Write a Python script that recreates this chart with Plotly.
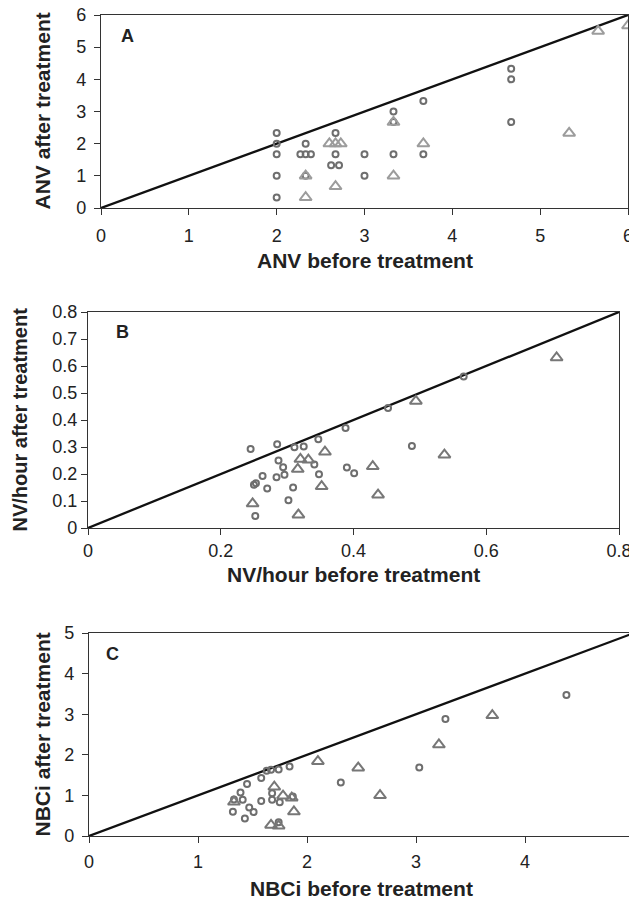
import plotly.graph_objects as go

# Panel A data
a_circ_x = [2, 2, 2, 2, 2, 2.27, 2.33, 2.39, 2.33, 2.33, 2.67, 2.67, 2.62, 2.71, 3, 3, 3.33, 3.33, 3.33, 3.67, 3.67, 4.67, 4.67, 4.67]
a_circ_y = [2.33, 2.0, 1.67, 1.0, 0.33, 1.67, 1.67, 1.67, 2.0, 1.0, 2.33, 1.67, 1.33, 1.33, 1.67, 1.0, 3.0, 2.67, 1.67, 3.33, 1.67, 4.33, 4.0, 2.67]
a_tri_x = [2.33, 2.33, 2.6, 2.67, 2.73, 2.67, 3.33, 3.33, 3.67, 5.33, 5.66, 6.0]
a_tri_y = [1.0, 0.33, 2.0, 2.0, 2.0, 0.67, 2.67, 1.0, 2.0, 2.33, 5.5, 5.67]

# Panel B data
b_circ_x = [0.245, 0.285, 0.311, 0.325, 0.347, 0.388, 0.452, 0.566, 0.488, 0.287, 0.294, 0.296, 0.284, 0.263, 0.253, 0.250, 0.270, 0.309, 0.302, 0.252, 0.341, 0.348, 0.390, 0.401]
b_circ_y = [0.293, 0.310, 0.299, 0.302, 0.329, 0.370, 0.444, 0.561, 0.304, 0.250, 0.225, 0.197, 0.188, 0.193, 0.166, 0.160, 0.146, 0.150, 0.103, 0.044, 0.235, 0.199, 0.224, 0.203]
b_tri_x = [0.248, 0.317, 0.316, 0.320, 0.332, 0.357, 0.352, 0.429, 0.437, 0.494, 0.537, 0.706]
b_tri_y = [0.090, 0.049, 0.218, 0.255, 0.252, 0.282, 0.154, 0.228, 0.123, 0.470, 0.271, 0.631]

# Panel C data
c_circ_x = [4.38, 3.27, 3.03, 2.31, 1.84, 1.74, 1.67, 1.63, 1.58, 1.45, 1.39, 1.41, 1.33, 1.32, 1.47, 1.51, 1.43, 1.58, 1.68, 1.68, 1.75, 1.87, 1.74]
c_circ_y = [3.47, 2.88, 1.69, 1.32, 1.71, 1.64, 1.63, 1.61, 1.43, 1.28, 1.07, 0.89, 0.90, 0.60, 0.70, 0.59, 0.43, 0.86, 1.05, 0.89, 0.83, 0.97, 0.34]
c_tri_x = [2.10, 2.47, 2.67, 3.21, 3.70, 1.70, 1.78, 1.86, 1.88, 1.33, 1.67, 1.74]
c_tri_y = [1.84, 1.68, 1.00, 2.25, 2.97, 1.21, 0.99, 0.94, 0.60, 0.84, 0.27, 0.25]

panel_labels = ["A", "B", "C"]
axis_max = [6, 0.8, 5]
x_titles = ["ANV before treatment", "NV/hour before treatment", "NBCi before treatment"]
y_titles = ["ANV after treatment", "NV/hour after treatment", "NBCi after treatment"]
b_ticks_x = [0, 0.2, 0.4, 0.6, 0.8]
b_ticks_y = [0, 0.1, 0.2, 0.3, 0.4, 0.5, 0.6, 0.7, 0.8]

# The page body has an 8px margin, so the figure is made smaller and positions are offset.
OFF = 8
W, H = 637 - OFF, 903 - OFF
def fx(p):
    return (p - OFF) / W
def fy(p):
    return 1 - (p - OFF) / H

# pixel boxes in page coordinates: (left, right, top, bottom)
boxes = [(101, 628, 15, 208), (88, 619, 312, 528), (89, 634, 633, 836)]
ytitle_x = [42, 19.5, 42]
ytitle_size = [21, 20, 21]
xtitle_y = [261, 574, 888]
x_standoff = [5, 0, 3]
y_standoff = [4, 0, 4]
letter_pos = [(120, 36.5), (115, 332), (105, 653.5)]

circ_color = "#6e6e6e"
tri_colors = ["#9c9c9c", "#777777", "#777777"]
FONT = "Liberation Sans, Arial, Helvetica, sans-serif"
tick_font = dict(family=FONT, size=18, color="#222")

fig = go.Figure()
data = [
    (a_circ_x, a_circ_y, a_tri_x, a_tri_y),
    (b_circ_x, b_circ_y, b_tri_x, b_tri_y),
    (c_circ_x, c_circ_y, c_tri_x, c_tri_y),
]

for i, (cx, cy, tx, ty) in enumerate(data):
    n = "" if i == 0 else str(i + 1)
    xa, ya = "x" + n, "y" + n
    m = axis_max[i]
    fig.add_trace(go.Scatter(x=[0, m], y=[0, m], mode="lines", line=dict(color="#111", width=2.3),
                             xaxis=xa, yaxis=ya, showlegend=False, hoverinfo="skip", cliponaxis=False))
    fig.add_trace(go.Scatter(x=cx, y=cy, mode="markers", xaxis=xa, yaxis=ya, showlegend=False, cliponaxis=False,
                             marker=dict(symbol="circle-open", size=6, line=dict(width=2, color=circ_color),
                                         color=circ_color)))
    fig.add_trace(go.Scatter(x=tx, y=ty, mode="markers", xaxis=xa, yaxis=ya, showlegend=False, cliponaxis=False,
                             marker=dict(symbol="triangle-up-open", size=10.5,
                                         line=dict(width=2, color=tri_colors[i]), color=tri_colors[i])))
    l, r, t, b = boxes[i]
    if i == 1:
        xt = b_ticks_x
        xtt = ["0"] + [f"{v:.1f}" for v in xt[1:]]
        yt = b_ticks_y
        ytt = ["0"] + [f"{v:.1f}" for v in yt[1:]]
    else:
        xt = list(range(m + 1))
        xtt = [str(v) for v in xt]
        yt = xt
        ytt = xtt
    axcommon = dict(showgrid=False, zeroline=False, showline=True, linecolor="#333", linewidth=1.2,
                    mirror=True, ticks="outside", ticklen=6, tickcolor="#333", tickwidth=1.2,
                    tickfont=tick_font, range=[0, m], automargin=False, ticklabeloverflow="allow")
    fig.layout["xaxis" + n] = dict(domain=[fx(l), fx(r)], anchor=ya, tickvals=xt, ticktext=xtt,
                                   ticklabelstandoff=x_standoff[i], **axcommon)
    fig.layout["yaxis" + n] = dict(domain=[fy(b), fy(t)], anchor=xa, tickvals=yt, ticktext=ytt,
                                   ticklabelstandoff=y_standoff[i], **axcommon)
    fig.add_annotation(xref="paper", yref="paper", x=fx((l + r) / 2), y=fy(xtitle_y[i]),
                       text="<b>" + x_titles[i] + "</b>", showarrow=False,
                       xanchor="center", yanchor="middle",
                       font=dict(family=FONT, size=21, color="#222"))
    fig.add_annotation(xref="paper", yref="paper", x=fx(ytitle_x[i]), y=fy((t + b) / 2),
                       text="<b>" + y_titles[i] + "</b>", showarrow=False, textangle=-90,
                       xanchor="center", yanchor="middle",
                       font=dict(family=FONT, size=ytitle_size[i], color="#222"))
    lx, ly = letter_pos[i]
    fig.add_annotation(xref="paper", yref="paper", x=fx(lx - 1), y=fy(ly), text="<b>" + panel_labels[i] + "</b>",
                       showarrow=False, xanchor="left", yanchor="middle",
                       font=dict(family=FONT, size=18, color="#222"))

fig.update_layout(width=W, height=H, margin=dict(l=0, r=0, t=0, b=0, autoexpand=False),
                  paper_bgcolor="white", plot_bgcolor="white")
fig.write_html("out.html")
